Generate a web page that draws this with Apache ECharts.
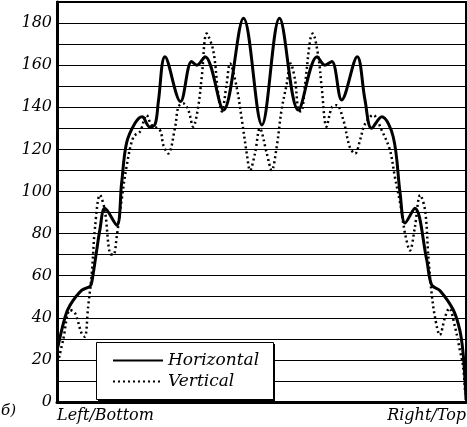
<!DOCTYPE html>
<html><head><meta charset="utf-8">
<script src="https://cdn.jsdelivr.net/npm/echarts@6/dist/echarts.min.js"></script>
<style>html,body{margin:0;padding:0;background:#fff}#c{width:467px;height:427px}</style>
</head><body><div id="c"></div>
<script>
// positions along the profile, % of width (0 = Left/Bottom, 100 = Right/Top)
const posH = [0.2,2.0,3.2,6.0,8.1,8.6,9.7,10.5,11.7,14.6,15.8,17.0,19.1,20.8,22.7,24.0,24.8,26.4,30.2,32.9,34.2,36.2,40.7,45.6,50.1,54.4,59.0,63.6,65.5,67.2,69.6,73.4,75.3,76.9,79.4,82.2,83.9,85.1,87.5,90.4,91.6,93.6,96.9,98.5,99.3,99.8,100];
const valH = [26,40.5,46,53,55,58,72,82,92,84,104,123,132.5,135.5,130.6,132,143,164,142.7,161.7,160,164,138.7,182.3,131.6,182.3,138.7,164,160,161.7,143.5,164,143.5,130,135.5,126,99,85,92,67.5,55.6,53,43.7,34,23,9,1];
const posV = [0.5,1.5,3.2,4.4,6.0,6.8,7.6,8.5,9.3,10.5,11.7,12.9,13.8,14.6,15.8,17.0,18.7,20.3,21.9,23.1,25.2,26.0,27.2,28.9,29.7,30.9,32.1,33.3,34.5,35.4,36.6,38.2,39.4,40.3,41.5,42.3,43.9,45.2,46.4,47.2,48.4,49.6,51.3,52.5,53.7,54.9,56.2,57.1,58.2,59.0,59.7,60.6,61.9,62.5,63.9,64.7,65.9,67.2,68.4,70.0,71.6,72.9,74.1,75.3,77.3,79.4,81.4,82.6,83.9,85.1,86.3,87.5,88.8,90.0,90.8,91.6,92.4,93.6,94.9,95.9,97.3,98.5,99.3,99.8];
const valV = [21,29.5,43.7,42.3,32.7,31,45,61,83,98.3,91,70.6,70,78.5,96,111.8,126,128.4,136.3,131.6,129,122,118,130.8,140.3,141.8,138.7,130.8,140,154.5,175,167,146.7,138,151.4,160.8,149.8,134,118,110,118,130,118,110,121,138.7,151.4,160.8,153,138.7,138,150,172,175,164,149.8,130.8,140,141,134,121,118,124.5,132,136.3,129,119.7,107,94.4,80,72,83,98.3,91,69,51.6,40.5,31.8,40.5,44.5,35.8,24.7,16.8,4];
const seriesNames = ['Horizontal','Vertical'];
const yTicks = [0,20,40,60,80,100,120,140,160,180];
const xEndLabels = ['Left/Bottom','Right/Top'];
const panelLabel = 'б)';

const FONT = '"DejaVu Serif", serif';
const zip = (a,b) => a.map((x,i)=>[x,b[i]]);
const chart = echarts.init(document.getElementById('c'), null, {renderer:'canvas'});
chart.setOption({
  animation:false,
  backgroundColor:'#fff',
  grid:{left:57,right:1,top:2,bottom:25,show:true,borderColor:'#000',borderWidth:2,containLabel:false},
  xAxis:{type:'value',min:0,max:100,axisLabel:{show:false},axisTick:{show:false},splitLine:{show:false},
    axisLine:{show:true,onZero:false,lineStyle:{color:'#000',width:3}}},
  yAxis:{type:'value',min:0,max:190,interval:10,
    axisLine:{show:true,lineStyle:{color:'#000',width:3}},axisTick:{show:false},
    splitLine:{show:true,lineStyle:{color:'#000',width:1}},
    axisLabel:{color:'#000',fontFamily:FONT,fontStyle:'italic',fontSize:16,margin:5,
      formatter:v=>yTicks.indexOf(v)>=0?String(v):''}},
  legend:{data:seriesNames,orient:'vertical',left:112,top:352,z:20,
    padding:0,itemWidth:50,itemHeight:14,itemGap:4,
    itemStyle:{opacity:0,borderWidth:0},
    textStyle:{color:'#000',fontFamily:FONT,fontStyle:'italic',fontSize:17,lineHeight:14}},
  graphic:[
    {type:'rect',z:15,shape:{x:98,y:344,width:177,height:57},style:{fill:'#000'}},
    {type:'rect',z:16,shape:{x:96.5,y:342.5,width:177,height:57},style:{fill:'#fff',stroke:'#000',lineWidth:1}},
    {type:'text',left:57,top:408,style:{text:xEndLabels[0],fill:'#000',font:'italic 16px '+FONT}},
    {type:'text',right:1,top:408,style:{text:xEndLabels[1],fill:'#000',font:'italic 16px '+FONT}},
    {type:'text',left:1,top:404,style:{text:panelLabel,fill:'#000',font:'italic 15px '+FONT}}
  ],
  series:[
    {name:seriesNames[0],type:'line',data:zip(posH,valH),smooth:0.35,symbol:'none',
      lineStyle:{color:'#000',width:3,type:'solid'},itemStyle:{color:'#000'},z:3},
    {name:seriesNames[1],type:'line',data:zip(posV,valV),smooth:0.35,symbol:'none',
      lineStyle:{color:'#000',width:2.5,type:[2,3]},itemStyle:{color:'#000'},z:2}
  ]
});
</script></body></html>
